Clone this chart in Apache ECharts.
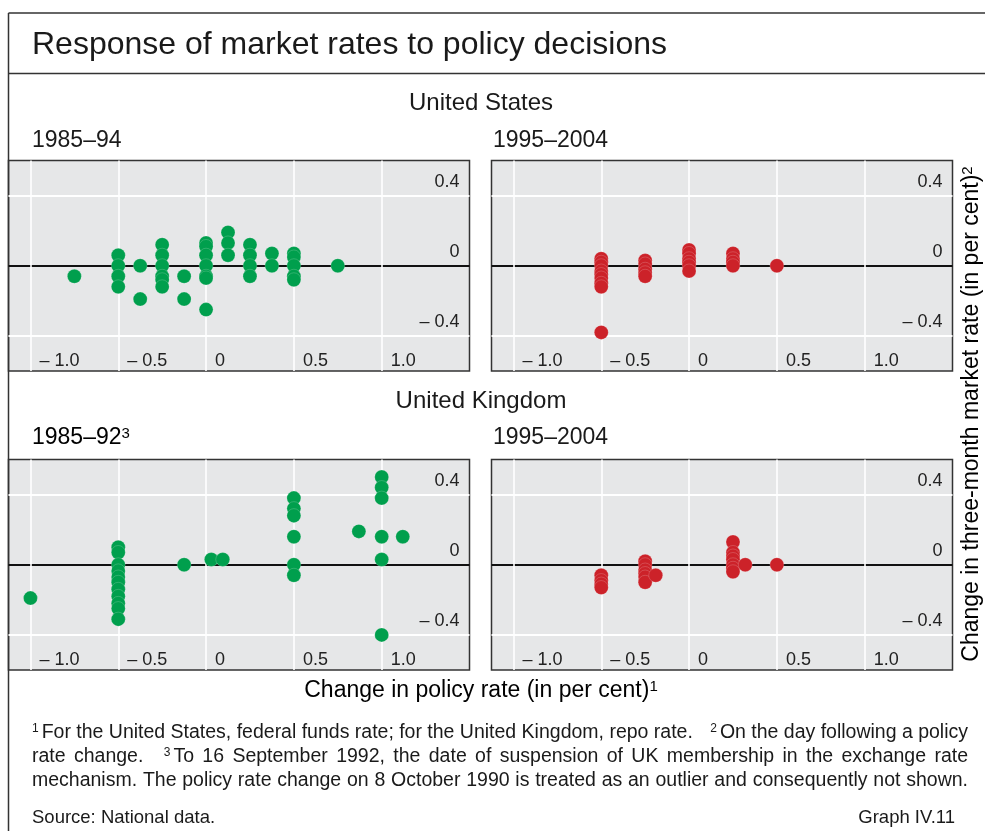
<!DOCTYPE html>
<html>
<head>
<meta charset="utf-8">
<script src="https://cdn.jsdelivr.net/npm/echarts@6.0.0/dist/echarts.min.js"></script>
<style>
  html, body { margin: 0; padding: 0; background: #fff; }
  #chart { width: 985px; height: 831px; }
</style>
</head>
<body>
<div id="chart"></div>
<script>
const FONT = '"Liberation Sans", Arial, sans-serif';

// [change in policy rate, change in three-month market rate]
const usEarly = [
  [-0.75, -0.06],
  [-0.5, 0.06], [-0.5, 0], [-0.5, -0.06], [-0.5, -0.12],
  [-0.375, 0], [-0.375, -0.19],
  [-0.25, 0.12], [-0.25, 0.06], [-0.25, 0], [-0.25, -0.06], [-0.25, -0.08], [-0.25, -0.12],
  [-0.125, -0.06], [-0.125, -0.19],
  [0, 0.13], [0, 0.11], [0, 0.06], [0, 0], [0, -0.06], [0, -0.07], [0, -0.25],
  [0.125, 0.19], [0.125, 0.13], [0.125, 0.06],
  [0.25, 0.12], [0.25, 0.06], [0.25, 0], [0.25, -0.06],
  [0.375, 0.07], [0.375, 0],
  [0.5, 0.07], [0.5, 0.05], [0.5, 0], [0.5, -0.06], [0.5, -0.08],
  [0.75, 0]
];
const usLate = [
  [-0.5, 0.04], [-0.5, 0.02], [-0.5, 0], [-0.5, -0.03], [-0.5, -0.05], [-0.5, -0.07], [-0.5, -0.1], [-0.5, -0.12],
  [-0.5, -0.38],
  [-0.25, 0.03], [-0.25, 0.01], [-0.25, -0.02], [-0.25, -0.04], [-0.25, -0.06],
  [0, 0.09], [0, 0.07], [0, 0.04], [0, 0.02], [0, 0], [0, -0.03],
  [0.25, 0.07], [0.25, 0.04], [0.25, 0.02], [0.25, 0],
  [0.5, 0]
];
const ukEarly = [
  [-1.0, -0.19],
  [-0.5, 0.1], [-0.5, 0.07], [-0.5, 0], [-0.5, -0.035], [-0.5, -0.07], [-0.5, -0.1],
  [-0.5, -0.14], [-0.5, -0.18], [-0.5, -0.22], [-0.5, -0.25], [-0.5, -0.31],
  [-0.125, 0],
  [0.03, 0.03], [0.095, 0.03],
  [0.5, 0.38], [0.5, 0.32], [0.5, 0.28], [0.5, 0.16], [0.5, 0], [0.5, -0.06],
  [0.87, 0.19],
  [1.0, 0.5], [1.0, 0.44], [1.0, 0.38], [1.0, 0.16], [1.0, 0.03], [1.0, -0.4],
  [1.12, 0.16]
];
const ukLate = [
  [-0.5, -0.06], [-0.5, -0.09], [-0.5, -0.11], [-0.5, -0.13],
  [-0.25, 0.02], [-0.25, 0], [-0.25, -0.03], [-0.25, -0.05], [-0.25, -0.07], [-0.25, -0.1],
  [-0.19, -0.06],
  [0.25, 0.13], [0.25, 0.07], [0.25, 0.05], [0.25, 0.03], [0.25, 0], [0.25, -0.02], [0.25, -0.04],
  [0.32, 0],
  [0.5, 0]
];

const xTickValues = [-1, -0.5, 0, 0.5, 1];
const xTickLabels = ['– 1.0', '– 0.5', '0', '0.5', '1.0'];
const yTickValues = [-0.4, 0, 0.4];
const yTickLabels = ['– 0.4', '0', '0.4'];

const GREEN = '#009f4d';
const RED = '#cc2229';

const panels = [
  { data: usEarly, color: GREEN, left: 8.5, top: 160.5 },
  { data: usLate, color: RED, left: 491.5, top: 160.5 },
  { data: ukEarly, color: GREEN, left: 8.5, top: 459.5 },
  { data: ukLate, color: RED, left: 491.5, top: 459.5 }
];

const lookup = (vals, labels) => v => {
  const i = vals.findIndex(t => Math.abs(t - v) < 1e-9);
  return i < 0 ? '' : labels[i];
};

const tickFont = { fontSize: 18, color: '#222', fontFamily: FONT };

// footnotes are justified between these edges
const NOTE_LEFT = 32, NOTE_RIGHT = 968, NOTE_SIZE = 19.5, SUP_SIZE = 12;
const noteLines = [
  '^1 For the United States, federal funds rate; for the United Kingdom, repo rate.  ^2 On the day following a policy',
  'rate change.  ^3 To 16 September 1992, the date of suspension of UK membership in the exchange rate',
  'mechanism. The policy rate change on 8 October 1990 is treated as an outlier and consequently not shown.'
];

const measureCtx = document.createElement('canvas').getContext('2d');
function textWidth(str, size) {
  measureCtx.font = size + 'px ' + FONT;
  return measureCtx.measureText(str).width;
}

function noteElements(line, y, justify) {
  const items = [];
  let extra = 0;
  line.split(' ').forEach(p => {
    if (p === '') { extra += 12; return; }
    const sup = p[0] === '^';
    const text = sup ? p.slice(1) : p;
    items.push({ text, sup, w: textWidth(text, sup ? SUP_SIZE : NOTE_SIZE), pre: extra });
    extra = 0;
  });
  const space = textWidth(' ', NOTE_SIZE);
  let total = 0, stretch = 0;
  items.forEach((it, i) => {
    total += it.w + it.pre;
    if (i > 0) {
      if (items[i - 1].sup) total += 3;
      else { total += space; stretch++; }
    }
  });
  const add = justify && stretch ? (NOTE_RIGHT - NOTE_LEFT - total) / stretch : 0;
  let x = NOTE_LEFT;
  return items.map((it, i) => {
    if (i > 0) x += items[i - 1].sup ? 3 : space + add;
    x += it.pre;
    const el = {
      type: 'text', x: x, y: it.sup ? y - 4 : y, silent: true,
      style: {
        text: it.text, fontSize: it.sup ? SUP_SIZE : NOTE_SIZE, fontFamily: FONT,
        fill: '#1a1a1a', align: 'left', verticalAlign: 'middle'
      }
    };
    x += it.w;
    return el;
  });
}

const textEl = (text, x, y, size, align, extra) => Object.assign({
  type: 'text', x: x, y: y, silent: true,
  style: { text: text, fontSize: size, fontFamily: FONT, fill: '#1a1a1a', align: align, verticalAlign: 'middle' }
}, extra || {});

const supRich = {
  a: { fontSize: 23, fontFamily: FONT, color: '#1a1a1a' },
  s: { fontSize: 15, fontFamily: FONT, color: '#1a1a1a', verticalAlign: 'top' }
};

const frameLine = (x1, y1, x2, y2) => ({
  type: 'line', silent: true,
  shape: { x1: x1, y1: y1, x2: x2, y2: y2 },
  style: { stroke: '#333', lineWidth: 1.5 }
});

let chart = echarts.init(document.getElementById('chart'));

const option = {
  animation: false,
  backgroundColor: '#fff',
  grid: panels.map(p => ({
    left: p.left, top: p.top, width: 461, height: 210.5,
    show: true, backgroundColor: '#e6e7e8', borderColor: '#333', borderWidth: 1.5,
    outerBoundsMode: 'none'
  })),
  xAxis: panels.map((p, i) => ({
    type: 'value', gridIndex: i, min: -1.125, max: 1.5,
    axisLine: { show: false },
    axisTick: { show: false, customValues: xTickValues },
    splitLine: { show: true, lineStyle: { color: '#fff', width: 1.6 } },
    axisLabel: Object.assign({
      inside: true, customValues: xTickValues,
      formatter: lookup(xTickValues, xTickLabels),
      align: 'left', padding: [0, 0, 0, 9], margin: 1
    }, tickFont)
  })),
  yAxis: panels.map((p, i) => ({
    type: 'value', gridIndex: i, position: 'right', min: -0.6, max: 0.6,
    axisLine: { show: false },
    axisTick: { show: false, customValues: yTickValues },
    splitLine: { show: true, lineStyle: { color: ['#fff', '#111', '#fff'], width: 1.8 } },
    axisLabel: Object.assign({
      inside: true, customValues: yTickValues,
      formatter: lookup(yTickValues, yTickLabels),
      verticalAlign: 'bottom', padding: [0, 0, 5, 0], margin: 10
    }, tickFont)
  })),
  series: panels.map((p, i) => ({
    type: 'scatter', xAxisIndex: i, yAxisIndex: i, silent: true,
    symbol: 'circle', symbolSize: 14,
    itemStyle: { color: p.color, opacity: 1, borderColor: 'rgba(255,255,255,0.3)', borderWidth: 0.6 },
    data: p.data
  })),
  graphic: [
    frameLine(8.5, 13, 985, 13),
    frameLine(8.5, 73.5, 985, 73.5),
    frameLine(8.5, 13, 8.5, 831),
    textEl('Response of market rates to policy decisions', 32, 45, 32, 'left'),
    textEl('United States', 481, 103, 24, 'center'),
    textEl('1985–94', 32, 141, 23, 'left'),
    textEl('1995–2004', 493, 141, 23, 'left'),
    textEl('United Kingdom', 481, 401, 24, 'center'),
    {
      type: 'text', x: 32, y: 438, silent: true,
      style: { text: '{a|1985–92}{s|3}', align: 'left', verticalAlign: 'middle',
        rich: { a: { fontSize: 23, fontFamily: FONT, color: '#1a1a1a' }, s: supRich.s } }
    },
    textEl('1995–2004', 493, 438, 23, 'left'),
    {
      type: 'text', x: 481, y: 691, silent: true,
      style: { text: '{a|Change in policy rate (in per cent)}{s|1}', align: 'center', verticalAlign: 'middle', rich: supRich }
    },
    {
      type: 'text', x: 972, y: 414, rotation: Math.PI / 2, silent: true,
      style: { text: '{a|Change in three-month market rate (in per cent)}{s|2}', align: 'center', verticalAlign: 'middle', rich: supRich }
    },
    ...noteElements(noteLines[0], 733, true),
    ...noteElements(noteLines[1], 757, true),
    ...noteElements(noteLines[2], 781, true),
    textEl('Source: National data.', 32, 818, 18.5, 'left'),
    textEl('Graph IV.11', 955, 818, 18.5, 'right')
  ]
};

chart.setOption(option);
</script>
</body>
</html>
